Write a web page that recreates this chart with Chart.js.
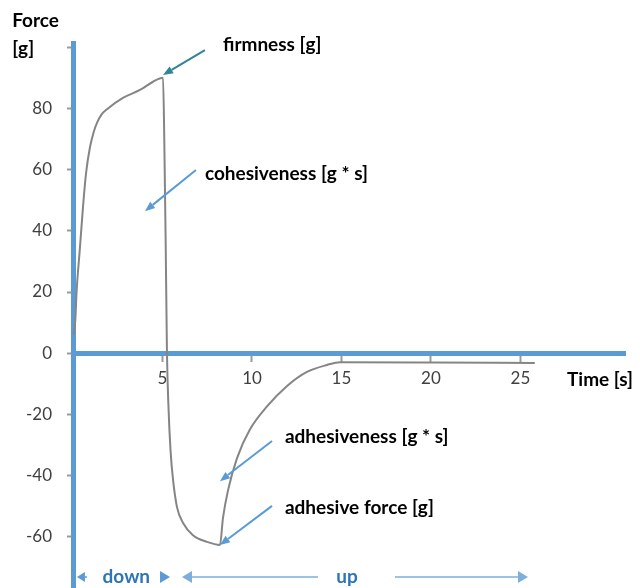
<!DOCTYPE html>
<html>
<head>
<meta charset="utf-8">
<script src="https://cdn.jsdelivr.net/npm/chart.js@4.4.0/dist/chart.umd.min.js"></script>
<style>
  html, body { margin: 0; padding: 0; background: #fff; }
</style>
</head>
<body>
<canvas id="texture" width="640" height="588"></canvas>
<script>
// texture analyser curve: force [g] against time [s]
var timeS = [0.05, 0.13, 0.2, 0.39, 0.56, 0.73, 0.95, 1.15, 1.34, 1.6, 1.9, 2.79, 3.74, 4.47, 5.03,
  5.1, 5.18, 5.25, 5.33, 5.45, 5.59, 5.81, 6.15, 6.7, 7.49, 8.21,
  8.38, 8.66, 9.16, 9.89, 10.84, 11.96, 13.07, 14.19, 14.92, 20, 25.8];
var forceG = [6, 11, 20, 34.7, 48, 59, 67.5, 72.3, 75.4, 78.2, 79.9, 83.6, 86.2, 88.9, 90.2,
  70, 35, 0, -17, -32, -41.6, -50.5, -55.7, -59.7, -61.9, -62.9,
  -54, -45, -34.5, -25, -17.5, -10.8, -6.2, -3.9, -3.0, -3.1, -3.3];

var xTicks = [5, 10, 15, 20, 25];
var xTickLabels = ['5', '10', '15', '20', '25'];
var yTicks = [-60, -40, -20, 0, 20, 40, 60, 80, 100];
var yTickLabels = ['-60', '-40', '-20', '0', '20', '40', '60', '80', ''];

var BLUE = '#5b9bd5';
var FONT = 'Lato, "Open Sans", sans-serif';
var LABEL_FONT = 'bold 19px ' + FONT;

// callouts, in data units (time, force)
var callouts = [
  { text: 'firmness [g]', at: [8.38, 101], from: [7.37, 99.3], to: [5.03, 91.1], color: '#31849b' },
  { text: 'cohesiveness [g * s]', at: [7.37, 58.7], from: [6.87, 60.0], to: [4.02, 46.5], color: BLUE },
  { text: 'adhesiveness [g * s]', at: [11.84, -27.5], from: [11.12, -28.8], to: [8.21, -42.0], color: BLUE },
  { text: 'adhesive force [g]', at: [11.84, -50.8], from: [11.12, -50.1], to: [8.21, -62.9], color: BLUE }
];

function arrow(c, x1, y1, x2, y2, color, w, hl, hw) {
  var a = Math.atan2(y2 - y1, x2 - x1);
  var bx = x2 - hl * Math.cos(a), by = y2 - hl * Math.sin(a);
  c.strokeStyle = color; c.fillStyle = color; c.lineWidth = w;
  c.beginPath(); c.moveTo(x1, y1); c.lineTo(bx, by); c.stroke();
  c.beginPath();
  c.moveTo(x2, y2);
  c.lineTo(bx + hw * Math.sin(a), by - hw * Math.cos(a));
  c.lineTo(bx - hw * Math.sin(a), by + hw * Math.cos(a));
  c.closePath(); c.fill();
}

var notes = {
  id: 'notes',
  afterDraw: function (chart) {
    var c = chart.ctx, xs = chart.scales.x, ys = chart.scales.y;
    var px = function (v) { return xs.getPixelForValue(v); };
    var py = function (v) { return ys.getPixelForValue(v); };
    c.save();
    c.textBaseline = 'middle';
    c.textAlign = 'left';

    // axis names
    c.fillStyle = '#000';
    c.font = LABEL_FONT;
    c.fillText('Force', px(-3.4), py(108.8));
    c.fillText('[g]', px(-3.4), py(99.6));
    c.fillText('Time [s]', px(27.6), py(-8.85));

    callouts.forEach(function (n) {
      arrow(c, px(n.from[0]), py(n.from[1]), px(n.to[0]), py(n.to[1]), n.color, 2, 10, 4);
      c.fillStyle = '#000';
      c.font = LABEL_FONT;
      c.fillText(n.text, px(n.at[0]), py(n.at[1]));
    });

    // down / up strip
    var yb = py(-73.4);
    arrow(c, px(0.78), yb, px(0.22), yb, BLUE, 1.5, 8, 5);
    arrow(c, px(4.9), yb, px(5.42), yb, BLUE, 1.5, 10, 6);
    arrow(c, px(13.69), yb, px(6.09), yb, '#7eaedb', 1.5, 10, 6);
    arrow(c, px(17.99), yb, px(25.42), yb, '#7eaedb', 1.5, 10, 6);
    c.fillStyle = '#2e75b6';
    c.font = LABEL_FONT;
    c.textAlign = 'center';
    c.fillText('down', px(2.98), yb);
    c.fillText('up', px(15.31), yb);
    c.restore();
  }
};

var points = timeS.map(function (t, i) { return { x: t, y: forceG[i] }; });

new Chart(document.getElementById('texture'), {
  type: 'line',
  data: {
    datasets: [{
      data: points,
      borderColor: '#858585',
      borderWidth: 2,
      pointRadius: 0,
      fill: false,
      cubicInterpolationMode: 'monotone'
    }]
  },
  options: {
    responsive: false,
    animation: false,
    devicePixelRatio: 1,
    layout: { padding: { top: 43, right: 15, bottom: 0, left: 0 } },
    plugins: { legend: { display: false }, tooltip: { enabled: false } },
    scales: {
      x: {
        type: 'linear',
        min: 0,
        max: 30.84,
        position: { y: 0 },
        afterBuildTicks: function (s) { s.ticks = xTicks.map(function (v) { return { value: v }; }); },
        afterFit: function (s) { s.height = 0; s.paddingLeft = 0; s.paddingRight = 0; },
        grid: { drawOnChartArea: false, tickLength: 6, tickColor: '#9a9a9a', tickWidth: 2 },
        border: { color: BLUE, width: 5 },
        ticks: {
          color: '#404040',
          font: { family: FONT, size: 17 },
          padding: 9,
          maxRotation: 0,
          autoSkip: false,
          callback: function (v, i) { return xTickLabels[i]; }
        }
      },
      y: {
        type: 'linear',
        min: -77,
        max: 101.6,
        position: 'left',
        afterBuildTicks: function (s) { s.ticks = yTicks.map(function (v) { return { value: v }; }); },
        afterFit: function (s) { s.width = 73; s.paddingTop = 0; s.paddingBottom = 0; },
        grid: { drawOnChartArea: false, tickLength: 6, tickColor: '#9a9a9a', tickWidth: 2 },
        border: { color: BLUE, width: 5 },
        ticks: {
          color: '#404040',
          font: { family: FONT, size: 17 },
          padding: 15,
          autoSkip: false,
          callback: function (v, i) { return yTickLabels[i]; }
        }
      }
    }
  },
  plugins: [notes]
});
</script>
</body>
</html>
